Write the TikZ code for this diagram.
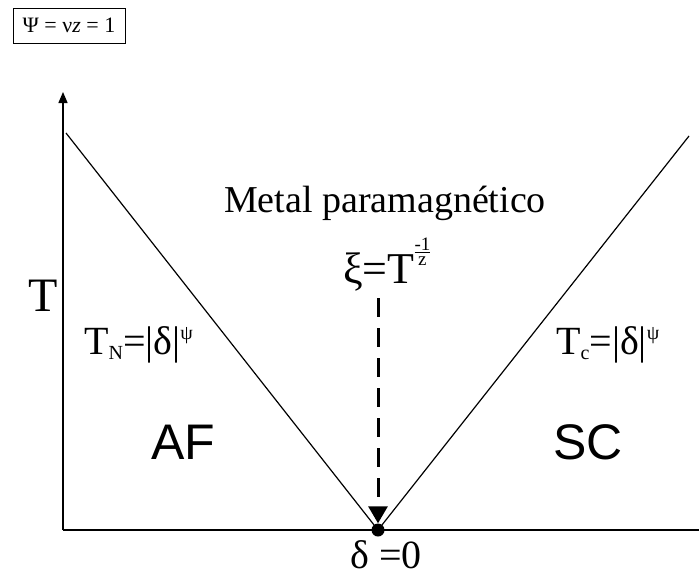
\documentclass[tikz,border=0pt]{standalone}
\usepackage{fontspec}
\setmainfont{Liberation Serif}
\setsansfont{Liberation Sans}
\usetikzlibrary{arrows.meta}

\newcommand{\smallsz}[1]{{\fontsize{20}{20}\selectfont #1}}
\newcommand{\zfrac}{\raisebox{18pt}{\fontsize{19}{15}\selectfont\renewcommand\arraystretch{1.0}\begin{tabular}[b]{@{}c@{}}-1\\[-3pt]\hline\rule{0pt}{13pt}z\end{tabular}}}

\begin{document}
\begin{tikzpicture}[x=1pt,y=-1pt,
axis/.style={line width=1.4pt},
bound/.style={line width=1.2pt},
lbl/.style={font=\fontsize{38}{40}\selectfont,inner sep=0pt},
big/.style={font=\fontsize{44}{46}\selectfont,inner sep=0pt},
phase/.style={font=\sffamily\fontsize{50}{52}\selectfont,inner sep=0pt}]
\useasboundingbox (0,0) rectangle (699,574);

% axes
\coordinate (orig) at (63,530);
\coordinate (ytop) at (63,92);
\coordinate (xend) at (699,530);
\draw[axis,-{Triangle[length=11pt,width=9pt]}] (orig) -- (ytop);
\draw[axis] (orig) -- (xend);

% phase boundaries
\coordinate (ltop) at (66,133);
\coordinate (rtop) at (689,136);
\node[circle,fill,inner sep=0pt,minimum size=13pt] (qcp) at (378,530) {};
\draw[bound] (ltop) -- (qcp.center) -- (rtop);

% labels
\node[draw,line width=0.9pt,minimum width=112pt,minimum height=35pt,inner sep=0pt,font=\fontsize{22}{24}\selectfont] (expo) at (69,25.5) {Ψ = ν\textit{z} = 1};
\node[lbl] (metal) at (385,203) {Metal paramagnético};
\node[big,anchor=base west] (xi) at (343,283) {ξ=T\zfrac};
\node[big,font=\fontsize{48}{50}\selectfont] (tlab) at (43,296) {T};
\node[lbl,font=\fontsize{40}{42}\selectfont,anchor=base west] (tn) at (84,354) {T\raisebox{-5pt}{\smallsz{N}}=|δ|\raisebox{15pt}{\smallsz{ψ}}};
\node[lbl,font=\fontsize{40}{42}\selectfont,anchor=base west] (tc) at (556,354) {T\raisebox{-5pt}{\smallsz{c}}=|δ|\raisebox{15pt}{\smallsz{ψ}}};
\node[phase] (af) at (183,442) {AF};
\node[phase] (sc) at (588,442) {SC};
\node[big,font=\fontsize{40}{42}\selectfont,anchor=base] (delta) at (386,568) {δ =0};

% correlation length
\coordinate (xibot) at (378,298);
\draw[line width=3pt,dash pattern=on 19pt off 11pt,-{Triangle[length=17pt,width=19pt]}] (xibot) -- (qcp.north);

\end{tikzpicture}
\end{document}
